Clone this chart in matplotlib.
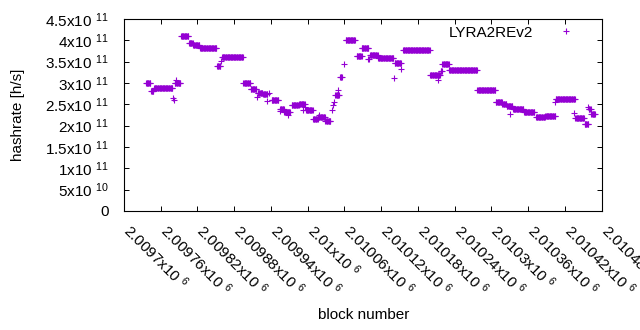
import numpy as np
import matplotlib
matplotlib.use("Agg")
import matplotlib.pyplot as plt
from matplotlib.ticker import FixedLocator, FuncFormatter
from matplotlib.transforms import ScaledTranslation

plt.rcParams['font.family'] = ['Liberation Sans', 'DejaVu Sans']
plt.rcParams['mathtext.fontset'] = 'custom'
plt.rcParams['mathtext.rm'] = 'Liberation Sans'
plt.rcParams['mathtext.it'] = 'Liberation Sans'
plt.rcParams['mathtext.bf'] = 'Liberation Sans'

SERIES = "LYRA2REv2"
BLOCK_BASE = 2009700

# constant-hashrate runs: first block offset, last block offset, hashrate (1e11 h/s)
run_start = [36, 44, 49, 83, 93, 106, 113, 124, 152, 160, 195, 207, 218, 227, 241,
             255, 262, 274, 286, 297, 309, 317, 329, 345, 353, 362, 380, 388, 402,
             415, 442, 456, 500, 517, 520, 531, 577, 607, 618, 625, 635, 653, 673,
             688, 705, 737, 752, 759, 763]
run_end = [43, 48, 79, 92, 105, 112, 123, 151, 157, 194, 206, 216, 226, 234, 252,
           261, 271, 285, 295, 308, 316, 328, 337, 351, 356, 377, 387, 399, 414,
           440, 452, 499, 516, 519, 530, 576, 606, 617, 624, 634, 652, 670, 687,
           704, 736, 751, 758, 762, 769]
run_value = [2.99, 2.82, 2.875, 2.99, 4.09, 3.93, 3.88, 3.83, 3.40, 3.60, 3.00, 2.86,
             2.77, 2.74, 2.60, 2.39, 2.33, 2.48, 2.51, 2.37, 2.16, 2.20, 2.11, 2.72,
             3.15, 4.00, 3.63, 3.83, 3.66, 3.58, 3.48, 3.77, 3.18, 3.27, 3.45, 3.30,
             2.83, 2.56, 2.51, 2.45, 2.39, 2.31, 2.20, 2.23, 2.63, 2.17, 2.04, 2.39,
             2.27]

# isolated blocks: block offset, hashrate (1e11 h/s)
pt_block = [80, 81, 85, 158, 217, 234, 237, 255, 268, 293, 296, 319, 339, 341, 343,
            350, 359, 388, 399, 400, 441, 453, 513, 631, 704, 734, 758]
pt_value = [2.66, 2.60, 3.07, 3.52, 2.68, 2.58, 2.76, 2.35, 2.25, 2.37, 2.43, 2.25,
            2.37, 2.48, 2.56, 2.84, 3.44, 3.63, 3.56, 3.56, 3.11, 3.32, 3.07, 2.27,
            2.56, 2.29, 2.43]

x_ticks = [2009700, 2009760, 2009820, 2009880, 2009940, 2010000, 2010060, 2010120,
           2010180, 2010240, 2010300, 2010360, 2010420, 2010480]
y_ticks = [0, 0.5e11, 1e11, 1.5e11, 2e11, 2.5e11, 3e11, 3.5e11, 4e11, 4.5e11]

blocks, rates = [], []
for s, e, v in zip(run_start, run_end, run_value):
    for b in range(s, e + 1):
        blocks.append(BLOCK_BASE + b)
        rates.append(v * 1e11)
for b, v in zip(pt_block, pt_value):
    blocks.append(BLOCK_BASE + b)
    rates.append(v * 1e11)

W, H = 640, 330
fig = plt.figure(figsize=(W / 100, H / 100), dpi=100)
L, R, T, B = 124, 601.7, 19, 211
ax = fig.add_axes([L / W, 1 - B / H, (R - L) / W, (B - T) / H])

color = '#9400d3'
ax.plot(blocks, rates, linestyle='none', marker='+', markersize=5.0,
        markeredgewidth=0.8, color=color, label=SERIES)

ax.set_xlim(x_ticks[0], x_ticks[-1])
ax.set_ylim(y_ticks[0], y_ticks[-1])

def sci(v):
    if v == 0:
        return "0"
    e = int(np.floor(np.log10(abs(v)) + 1e-9))
    m = v / 10 ** e
    ms = ("%.6f" % m).rstrip('0').rstrip('.')
    return ms + "x10 $^{%d}$" % e

ax.xaxis.set_major_locator(FixedLocator(x_ticks))
ax.yaxis.set_major_locator(FixedLocator(y_ticks))
ax.xaxis.set_major_formatter(FuncFormatter(lambda v, p: sci(v)))
ax.yaxis.set_major_formatter(FuncFormatter(lambda v, p: sci(v)))

fs = 11
ax.tick_params(axis='both', which='major', direction='in', length=3.3, width=0.7,
               top=True, right=True, labelsize=fs, colors='black')
ax.tick_params(axis='y', pad=11)
ax.tick_params(axis='x', pad=6)
off = ScaledTranslation(9 / 100, -2 / 100, fig.dpi_scale_trans)
for lab in ax.get_xticklabels():
    lab.set_rotation(-45)
    lab.set_ha('left')
    lab.set_va('top')
    lab.set_rotation_mode('anchor')
    lab.set_transform(lab.get_transform() + off)
for sp in ax.spines.values():
    sp.set_linewidth(0.8)
    sp.set_color('black')

fig.text(18 / W, 1 - 115 / H, "hashrate [h/s]", rotation=90, ha='center', va='center',
         fontsize=fs)
fig.text(364 / W, 1 - 315 / H, "block number", ha='center', va='center', fontsize=fs)

leg = ax.legend(loc='upper right', bbox_to_anchor=(0.958, 0.965), markerfirst=False,
                frameon=False, borderaxespad=0, borderpad=0, handlelength=2.0,
                handletextpad=1.2, fontsize=fs)

fig.savefig("out.png", dpi=100)
